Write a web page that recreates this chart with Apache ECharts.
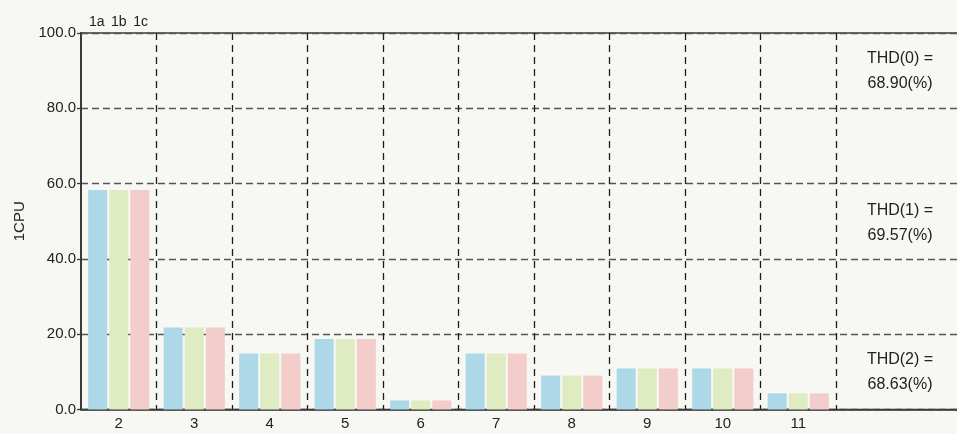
<!DOCTYPE html>
<html>
<head>
<meta charset="utf-8">
<script src="https://cdn.jsdelivr.net/npm/echarts@6/dist/echarts.min.js"></script>
<style>
html,body{margin:0;padding:0;background:#f7f7f3;}
#chart{width:957px;height:434px;}
</style>
</head>
<body>
<div id="chart"></div>
<script>
const categories = ['2','3','4','5','6','7','8','9','10','11',' ','  '];
const seriesNames = ['1a','1b','1c'];
const values1a = [58.3, 21.8, 14.9, 18.7, 2.4, 14.9, 9.0, 10.9, 10.9, 4.3];
const values1b = [58.3, 21.8, 14.9, 18.7, 2.4, 14.9, 9.0, 10.9, 10.9, 4.3];
const values1c = [58.3, 21.8, 14.9, 18.7, 2.4, 14.9, 9.0, 10.9, 10.9, 4.3];
const seriesColors = ['#acd8e8', '#dfebc1', '#f3cdc9'];
const yTicks = [0, 20, 40, 60, 80, 100];
const yAxisName = '1CPU';
const thdLabels = [
  ['THD(0) =', '68.90(%)'],
  ['THD(1) =', '69.57(%)'],
  ['THD(2) =', '68.63(%)']
];
const thdYValues = [90, 49.5, 10];

const FONT = 'Liberation Sans';
const chart = echarts.init(document.getElementById('chart'), null, {renderer: 'canvas'});

const allValues = [values1a, values1b, values1c];
const option = {
  backgroundColor: '#f7f7f3',
  animation: false,
  textStyle: {fontFamily: FONT},
  grid: {
    left: 81, top: 33, bottom: 24.5, width: 906,
    outerBoundsMode: 'none', containLabel: false,
    show: true, borderColor: '#3a3a3a', borderWidth: 1.5, backgroundColor: 'transparent'
  },
  legend: {
    data: seriesNames,
    left: 79, top: 10, padding: 5,
    icon: 'none', itemWidth: 0, itemHeight: 0, itemGap: 1.5,
    textStyle: {fontFamily: FONT, fontSize: 14, color: '#222'}
  },
  xAxis: {
    type: 'category',
    data: categories,
    axisLine: {show: true, lineStyle: {color: '#3a3a3a', width: 1.5}},
    axisTick: {show: false},
    axisLabel: {fontFamily: FONT, fontSize: 15, color: '#222', margin: 7},
    splitLine: {
      show: true,
      interval: function (i) { return i >= 1 && i <= 10; },
      lineStyle: {color: '#1e1e1e', width: 1.3, type: [7, 5]}
    }
  },
  yAxis: {
    type: 'value',
    min: yTicks[0], max: yTicks[yTicks.length - 1], interval: 20,
    name: yAxisName, nameLocation: 'middle', nameGap: 53,
    nameTextStyle: {fontFamily: FONT, fontSize: 15, color: '#222'},
    axisLine: {show: true, lineStyle: {color: '#3a3a3a', width: 2}},
    axisTick: {show: true, length: 4, lineStyle: {color: '#3a3a3a', width: 1.3}},
    axisLabel: {fontFamily: FONT, fontSize: 15, color: '#222', margin: 5,
      formatter: function (v) { return v.toFixed(1); }},
    splitLine: {show: true, lineStyle: {color: '#555', width: 1.3, type: [7, 4]}}
  },
  series: seriesNames.map(function (name, k) {
    return {
      name: name, type: 'bar', data: allValues[k],
      barWidth: 19, barGap: '11%',
      itemStyle: {color: seriesColors[k]}
    };
  }),
  graphic: []
};
chart.setOption(option);

const gfx = [];
thdLabels.forEach(function (lines, i) {
  const py = chart.convertToPixel({yAxisIndex: 0}, thdYValues[i]);
  gfx.push({
    type: 'text', x: 900, y: py, silent: true,
    style: {text: lines.join('\n'), fontFamily: FONT, fontSize: 16, fill: '#222',
      textAlign: 'center', textVerticalAlign: 'middle', lineHeight: 25}
  });
});
chart.setOption({graphic: gfx});
</script>
</body>
</html>
